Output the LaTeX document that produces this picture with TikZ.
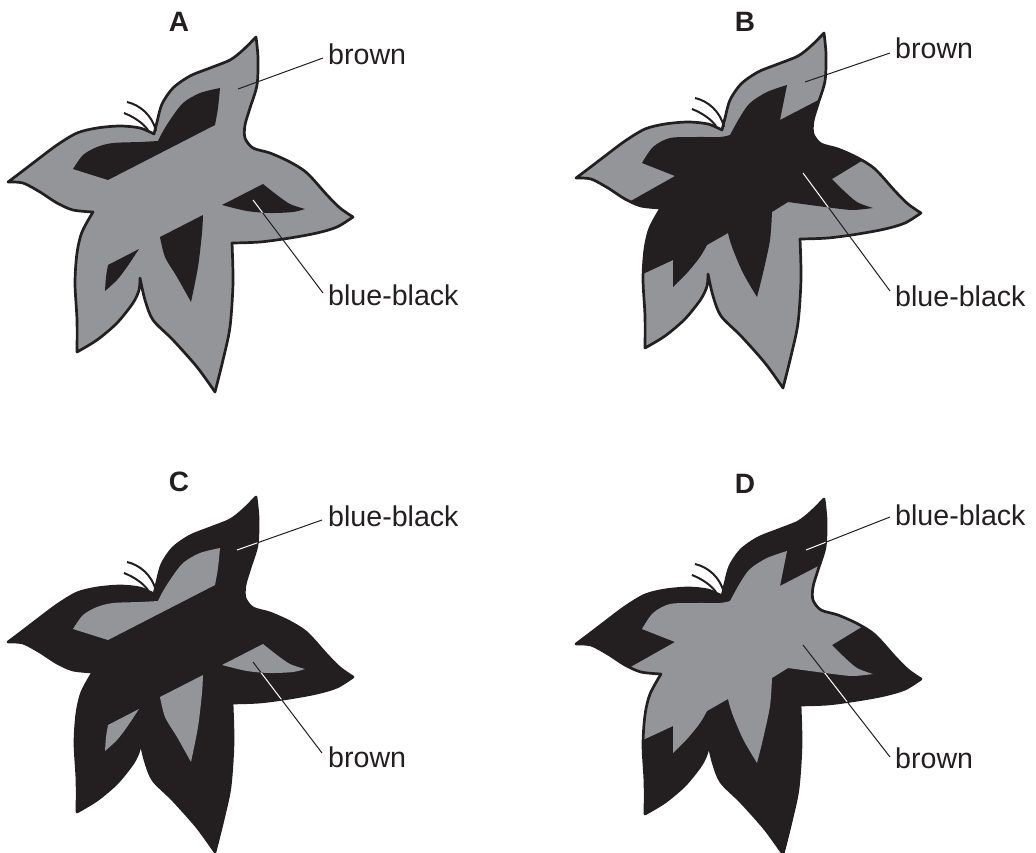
\documentclass[tikz,border=0pt]{standalone}
\usepackage{fontspec}
\setmainfont{Liberation Sans}
\definecolor{leafgrey}{HTML}{939598}
\definecolor{ink}{HTML}{231F20}
\newcommand{\leafpath}{(8,182)
 -- plot[smooth] coordinates {(8,182) (20,173) (37,160) (57,145) (77,133) (97,128) (120,126) (140,128) (154,134)}
 -- plot[smooth] coordinates {(154,134) (157,122) (162,104) (173,88) (190,76) (210,68) (230,60) (243,50) (256,37)}
 -- plot[smooth] coordinates {(256,37) (258,58) (257,85) (250,108) (245,125) (245,138) (253,148) (270,153) (290,162) (307,173) (327,195) (340,208) (353,217)}
 -- plot[smooth] coordinates {(353,217) (337,227) (317,233) (290,238) (260,242) (232,243)}
 -- plot[smooth] coordinates {(232,243) (233,283) (230,327) (223,360) (215,392)}
 -- plot[smooth] coordinates {(215,392) (197,367) (173,340) (153,320) (145,300) (140,278)}
 -- plot[smooth] coordinates {(140,278) (139,290) (133,303) (117,323) (97,340) (77,352)}
 -- plot[smooth] coordinates {(77,352) (77,320) (75,283) (77,253) (82,232) (93,212)}
 -- plot[smooth] coordinates {(93,212) (73,210) (57,203) (40,192) (23,183) (8,182)}
 -- cycle}
\newcommand{\patchpath}{(73,169)
 -- plot[smooth] coordinates {(73,169) (83,155) (97,147) (113,143) (140,142) (158,141)}
 -- plot[smooth] coordinates {(158,141) (162,133) (170,120) (183,103) (200,93) (220,88)}
 -- plot[smooth] coordinates {(220,88) (218,108) (215,125)}
 -- (108,180) -- cycle
 (222,205) -- (263,184)
 -- plot[smooth] coordinates {(263,184) (277,195) (290,204) (305,209)}
 -- plot[smooth] coordinates {(305,209) (293,212) (270,213) (247,211) (222,205)}
 -- cycle
 (160,237) -- (203,215)
 -- plot[smooth] coordinates {(203,215) (202,233) (198,267) (191,302)}
 -- plot[smooth] coordinates {(191,302) (177,277) (165,257) (160,237)}
 -- cycle
 (108,265) -- (139,249)
 -- plot[smooth] coordinates {(139,249) (127,267) (117,280) (105,291)}
 -- plot[smooth] coordinates {(105,291) (106,277) (108,265)}
 -- cycle}
\newcommand{\regionpath}{(74,167)
 -- plot[smooth] coordinates {(74,167) (85,151) (102,142) (129,141) (152,141) (162,139)}
 -- plot[smooth] coordinates {(162,139) (172,121) (182,107) (199,96) (219,89)}
 -- (212,124) -- (262,98) -- (285,110) -- (300,140) -- (310,155) -- (264,183)
 -- plot[smooth] coordinates {(264,183) (275,194) (289,206) (305,212)}
 -- plot[smooth] coordinates {(305,212) (285,214) (265,212) (242,209) (220,206)}
 -- (204,216)
 -- plot[smooth] coordinates {(204,216) (202,244) (195,277) (189,301)}
 -- plot[smooth] coordinates {(189,301) (175,277) (164,251) (160,237)}
 -- (139,249)
 -- plot[smooth] coordinates {(139,249) (132,261) (119,277) (105,291)}
 -- (105,264) -- (62,284) -- (50,250) -- (45,215) -- (107,180) -- cycle}
\newcommand{\stemarcs}{(127,102) .. controls (140,105) and (152,115) .. (156,131)
 (124,113) .. controls (134,117) and (143,123) .. (148,130)}
\tikzset{
 outline/.style={draw=ink, line width=2.7pt, line join=round},
 stemline/.style={draw=ink, line width=2pt},
 leader/.style={draw=ink, line width=1pt},
 leaderw/.style={draw=white, line width=1pt},
 lbl/.style={anchor=base west, inner sep=0pt, text=ink, font=\fontsize{28.6}{34}\selectfont},
 panellbl/.style={inner sep=0pt, text=ink, font=\fontsize{28}{33}\selectfont\bfseries},
}
\begin{document}
\begin{tikzpicture}[x=1pt, y=-1pt]
\useasboundingbox (0,0) rectangle (1036,852);
% labels and leader end points
\node[panellbl] (labA) at (179,22) {A};
\node[panellbl] (labB) at (745,22) {B};
\node[panellbl] (labC) at (179,482) {C};
\node[panellbl] (labD) at (745,484) {D};
\node[lbl] (tA1) at (328,64.5) {brown};
\node[lbl] (tA2) at (328,305) {blue-black};
\node[lbl] (tB1) at (895,58) {brown};
\node[lbl] (tB2) at (895,306) {blue-black};
\node[lbl] (tC1) at (328,526) {blue-black};
\node[lbl] (tC2) at (328,767) {brown};
\node[lbl] (tD1) at (895,525) {blue-black};
\node[lbl] (tD2) at (895,768) {brown};
\coordinate (A1s) at (323,58);  \coordinate (A1e) at (238,89);
\coordinate (A2s) at (323,293); \coordinate (A2e) at (253,200);
\coordinate (B1s) at (890,53);  \coordinate (B1e) at (805,82);
\coordinate (B2s) at (890,291); \coordinate (B2e) at (803,173);
\coordinate (C1s) at (322,520); \coordinate (C1e) at (237,550);
\coordinate (C2s) at (322,753); \coordinate (C2e) at (253,662);
\coordinate (D1s) at (890,517); \coordinate (D1e) at (806,550);
\coordinate (D2s) at (890,757); \coordinate (D2e) at (803,645);
% ---------- A ----------
\begin{scope}
 \fill[leafgrey] \leafpath;
 \fill[ink] \patchpath;
 \draw[outline] \leafpath;
 \draw[stemline] \stemarcs;
 \draw[leader] (A1s) -- (A1e);
 \draw[leader] (A2s) -- (A2e);
 \begin{scope}
  \clip \patchpath;
  \draw[leaderw] (A2s) -- (A2e);
 \end{scope}
\end{scope}
% ---------- B ----------
\begin{scope}[shift={(568,-4)}]
 \fill[leafgrey] \leafpath;
 \begin{scope}
  \clip \leafpath;
  \fill[ink] \regionpath;
 \end{scope}
 \draw[outline] \leafpath;
 \draw[stemline] \stemarcs;
 \draw[leader] (B1s) -- (B1e);
 \draw[leader] (B2s) -- (B2e);
 \begin{scope}
  \clip \leafpath;
  \clip \regionpath;
  \draw[leaderw] (B2s) -- (B2e);
 \end{scope}
\end{scope}
% ---------- C ----------
\begin{scope}[shift={(0,460)}]
 \fill[ink] \leafpath;
 \fill[leafgrey] \patchpath;
 \draw[outline] \leafpath;
 \draw[stemline] \stemarcs;
 \draw[leader] (C1s) -- (C1e);
 \draw[leader] (C2s) -- (C2e);
 \begin{scope}
  \clip \leafpath;
  \begin{scope}[even odd rule]
   \clip (-50,-50) rectangle (450,450) \patchpath;
   \draw[leaderw] (C1s) -- (C1e);
   \draw[leaderw] (C2s) -- (C2e);
  \end{scope}
 \end{scope}
\end{scope}
% ---------- D ----------
\begin{scope}[shift={(568,462)}]
 \fill[ink] \leafpath;
 \begin{scope}
  \clip \leafpath;
  \fill[leafgrey] \regionpath;
 \end{scope}
 \draw[outline] \leafpath;
 \draw[stemline] \stemarcs;
 \draw[leader] (D1s) -- (D1e);
 \draw[leader] (D2s) -- (D2e);
 \begin{scope}
  \clip \leafpath;
  \begin{scope}[even odd rule]
   \clip (-50,-50) rectangle (450,450) \regionpath;
   \draw[leaderw] (D1s) -- (D1e);
   \draw[leaderw] (D2s) -- (D2e);
  \end{scope}
 \end{scope}
\end{scope}
\end{tikzpicture}
\end{document}
